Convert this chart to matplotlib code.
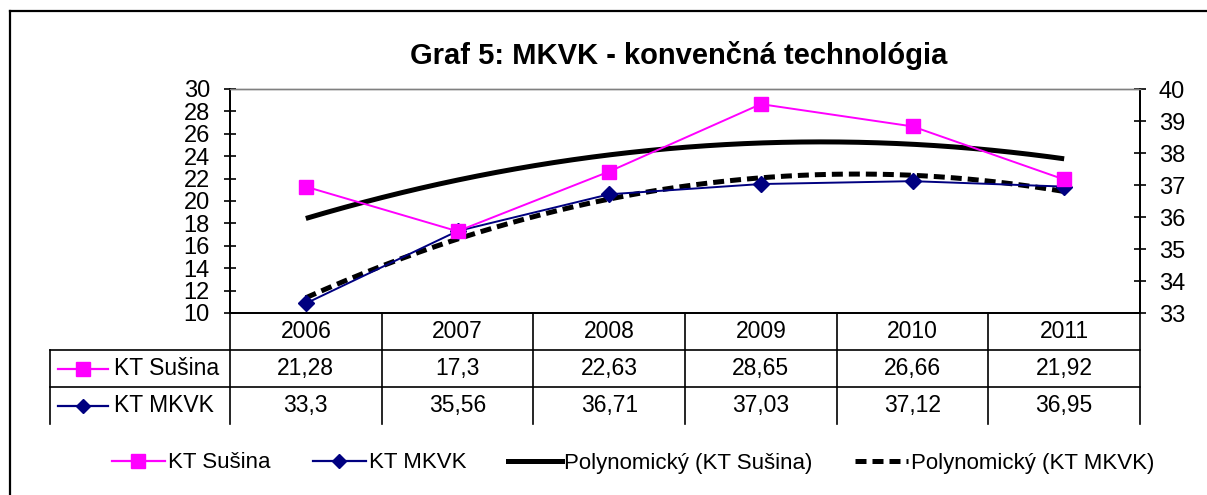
import numpy as np
import matplotlib
matplotlib.use("Agg")
import matplotlib.pyplot as plt
from matplotlib.lines import Line2D

plt.rcParams["font.family"] = ["Liberation Sans", "DejaVu Sans"]

# ---------------------------------------------------------------------------
# data
# ---------------------------------------------------------------------------
years = ["2006", "2007", "2008", "2009", "2010", "2011"]
susina = [21.28, 17.3, 22.63, 28.65, 26.66, 21.92]
mkvk = [33.3, 35.56, 36.71, 37.03, 37.12, 36.95]
susina_txt = ["21,28", "17,3", "22,63", "28,65", "26,66", "21,92"]
mkvk_txt = ["33,3", "35,56", "36,71", "37,03", "37,12", "36,95"]

TITLE = "Graf 5: MKVK - konvenčná technológia"
PINK = "#ff00ff"
NAVY = "#000080"

W, H = 1207, 495
fig = plt.figure(figsize=(W / 100, H / 100), dpi=100)
fig.patch.set_facecolor("white")

# outer chart border (top & left visible)
fig.add_artist(Line2D([10 / W, 1.0], [1 - 11 / H, 1 - 11 / H], color="black", lw=1.6))
fig.add_artist(Line2D([10 / W, 10 / W], [0, 1 - 11 / H], color="black", lw=1.6))

fig.text(679 / W, 1 - 55 / H, TITLE, ha="center", va="center",
         fontsize=21, fontweight="bold")

# plot area
x0, x1, y0, y1 = 230, 1140, 89, 313
ax = fig.add_axes([x0 / W, 1 - y1 / H, (x1 - x0) / W, (y1 - y0) / H])
ax2 = ax.twinx()

xs = np.arange(len(years))
ax.set_xlim(-0.5, len(years) - 0.5)
ax.set_ylim(10, 30)
ax.set_yticks(np.arange(10, 31, 2))
ax2.set_ylim(33, 40)
ax2.set_yticks(np.arange(33, 41, 1))
ax.set_xticks([])

for a in (ax, ax2):
    a.tick_params(axis="y", direction="inout", length=9, width=1.2, labelsize=17)
    a.spines["top"].set_color("#808080")
    a.spines["top"].set_linewidth(1.0)
    for s in ("left", "right", "bottom"):
        a.spines[s].set_linewidth(1.3)
ax.tick_params(axis="y", pad=10)
ax2.tick_params(axis="y", pad=9)

# polynomial (order 2) trendlines, as in the spreadsheet
xf = np.linspace(xs[0], xs[-1], 200)
ps = np.polyfit(xs, susina, 2)
pm = np.polyfit(xs, mkvk, 2)
ax.plot(xf, np.polyval(ps, xf), color="black", lw=3.6, solid_capstyle="butt", zorder=2)
ax2.plot(xf, np.polyval(pm, xf), color="black", lw=3.6, ls=(0, (2.2, 1.2)), zorder=2)

ax.plot(xs, susina, color=PINK, lw=1.4, marker="s", ms=10, mec=PINK, zorder=3)
ax2.plot(xs, mkvk, color=NAVY, lw=1.4, marker="D", ms=8, mec=NAVY, zorder=3)
ax.set_zorder(ax2.get_zorder() + 1)
ax.patch.set_visible(False)

# data table below the plot
row_h = 37 / (y1 - y0)
lbl_left = -0.5 - (x0 - 50) / ((x1 - x0) / len(years))
trans = ax.get_xaxis_transform()
kw = dict(transform=trans, clip_on=False, color="black", lw=1.2)
for b in np.arange(-0.5, len(years), 1.0):
    ax.plot([b, b], [0, -3 * row_h], **kw)
for r in (1, 2):
    ax.plot([lbl_left, len(years) - 0.5], [-r * row_h, -r * row_h], **kw)
ax.plot([lbl_left, lbl_left], [-row_h, -3 * row_h], **kw)

for i, x in enumerate(xs):
    ax.text(x, -0.5 * row_h, years[i], transform=trans, ha="center", va="center", fontsize=16.5)
    ax.text(x, -1.5 * row_h, susina_txt[i], transform=trans, ha="center", va="center", fontsize=16.5)
    ax.text(x, -2.5 * row_h, mkvk_txt[i], transform=trans, ha="center", va="center", fontsize=16.5)

cw = 1 / ((x1 - x0) / len(years))  # data units per pixel
for r, (lab, col, mk, ms) in enumerate([("KT Sušina", PINK, "s", 10), ("KT MKVK", NAVY, "D", 7)]):
    yy = -(1.5 + r) * row_h
    ax.plot([lbl_left + 8 * cw, lbl_left + 58 * cw], [yy, yy], color=col, lw=1.6,
            transform=trans, clip_on=False)
    ax.plot([lbl_left + 33 * cw], [yy], color=col, marker=mk, ms=ms, transform=trans, clip_on=False)
    ax.text(lbl_left + 64 * cw, yy, lab, transform=trans, ha="left", va="center", fontsize=16.5)

# legend at the bottom
handles = [
    Line2D([], [], color=PINK, lw=1.6, marker="s", ms=10),
    Line2D([], [], color=NAVY, lw=1.6, marker="D", ms=7),
    Line2D([], [], color="black", lw=3.6),
    Line2D([], [], color="black", lw=3.6, ls=(0, (2.2, 1.2))),
]
labels = ["KT Sušina", "KT MKVK", "Polynomický (KT Sušina)", "Polynomický (KT MKVK)"]
fig.legend(handles, labels, loc="center", bbox_to_anchor=(633 / W, 1 - 463 / H), ncol=4,
           frameon=False, fontsize=16, handlelength=2.4, handletextpad=0.12,
           columnspacing=1.9)

fig.savefig("out.png", dpi=100)
